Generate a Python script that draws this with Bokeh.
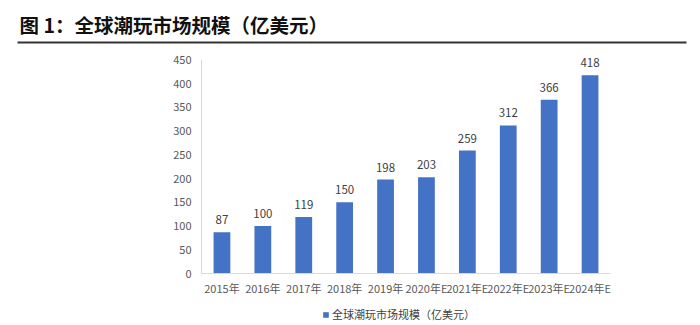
from bokeh.plotting import figure
from bokeh.models import ColumnDataSource, FactorRange, Range1d, LabelSet, Legend, LegendItem
from bokeh.layouts import column
from bokeh.core.properties import value
from bokeh.embed import file_html
from bokeh.resources import INLINE

categories = ["2015年", "2016年", "2017年", "2018年", "2019年", "2020年E",
              "2021年E", "2022年E", "2023年E", "2024年E"]
market_size = [87, 100, 119, 150, 198, 203, 259, 312, 366, 418]
y_ticks = [0, 50, 100, 150, 200, 250, 300, 350, 400, 450]
title_text = "图 1：全球潮玩市场规模（亿美元）"
series_name = "全球潮玩市场规模（亿美元）"

FONT = "Noto Sans CJK SC"
BAR = "#4472C4"


def bare(fig):
    fig.frame_align = False
    fig.axis.visible = False
    fig.grid.visible = False
    fig.outline_line_color = None


# header: title and rule
h = figure(width=700, height=48, x_range=Range1d(0, 700), y_range=Range1d(48, 0),
           output_backend="svg", toolbar_location=None, min_border=0)
bare(h)
h.text(x=[19], y=[24], text=[title_text], text_font=value(FONT), text_font_size="19.5px",
       text_font_style="bold", text_color="#111111", text_baseline="middle", text_align="left")
h.line(x=[17, 686], y=[42, 42], line_color="#333333", line_width=2)

# main chart (range runs a little past 450 so the top value label has room)
src = ColumnDataSource(dict(cat=categories, val=market_size, lab=[str(v) for v in market_size]))
p = figure(width=700, height=253, x_range=FactorRange(*categories, range_padding=0),
           y_range=Range1d(0, 470), output_backend="svg", toolbar_location=None,
           min_border_left=201, min_border_right=90, min_border_top=2, min_border_bottom=28)
p.frame_align = False
p.outline_line_color = None
p.grid.visible = False
p.vbar(x="cat", top="val", width=0.41, source=src, fill_color=BAR, line_color=None)

p.yaxis.ticker = y_ticks
p.yaxis.bounds = (y_ticks[0], y_ticks[-1])
for ax in (p.xaxis[0], p.yaxis[0]):
    ax.axis_line_color = "#D9D9D9"
    ax.major_tick_line_color = None
    ax.minor_tick_line_color = None
    ax.major_tick_out = 0
    ax.major_tick_in = 0
    ax.minor_tick_out = 0
    ax.major_label_text_font = FONT
    ax.major_label_text_font_size = "11px"
    ax.major_label_text_color = "#595959"
p.yaxis.major_label_standoff = 10
p.xaxis.major_label_standoff = 6

labels = LabelSet(x="cat", y="val", text="lab", source=src, y_offset=8,
                  text_align="center", text_baseline="bottom", text_font=value(FONT),
                  text_font_size="11.5px", text_color="#404040")
p.add_layout(labels)

# footer: legend (key renderer bound to the same series, kept out of view)
f = figure(width=700, height=24, x_range=FactorRange(*categories), y_range=Range1d(1000, 1001),
           output_backend="svg", toolbar_location=None, min_border=0)
bare(f)
key = f.vbar(x="cat", top="val", width=0.41, source=src, fill_color=BAR, line_color=None)
legend = Legend(items=[LegendItem(label=series_name, renderers=[key])], orientation="horizontal",
                location=(322, 3), label_text_font=FONT, label_text_font_size="11px",
                label_text_color="#404040", border_line_color=None, background_fill_alpha=0,
                glyph_width=7, glyph_height=7, label_standoff=3, padding=0, margin=0,
                spacing=0, label_height=16)
f.add_layout(legend)

layout = column(h, p, f, spacing=0)
open("out.html", "w").write(file_html(layout, INLINE))
